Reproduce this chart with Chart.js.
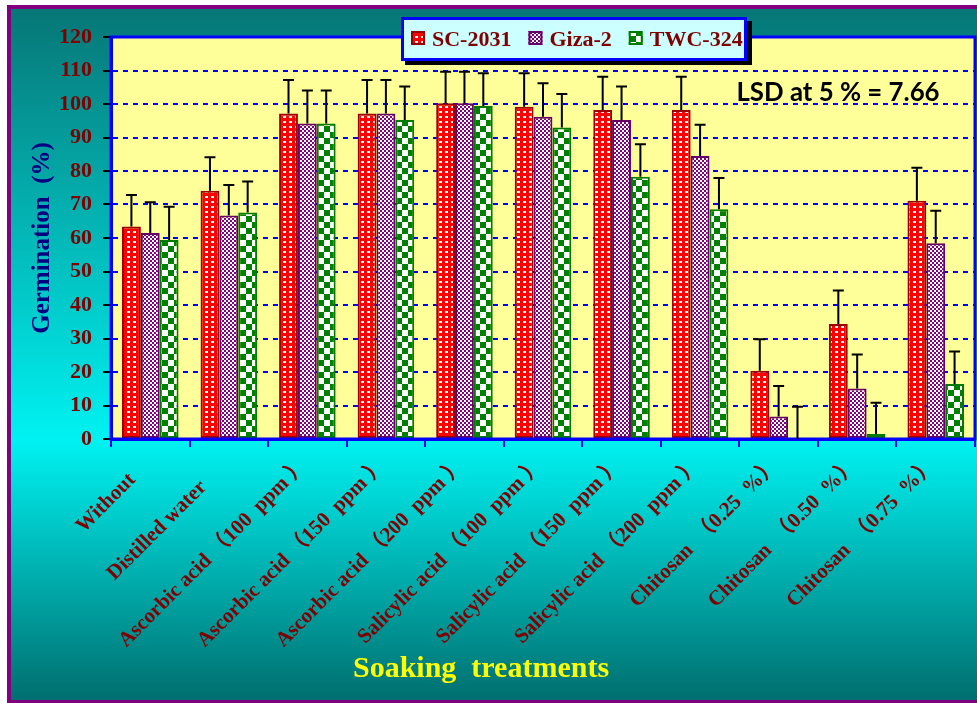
<!DOCTYPE html>
<html><head><meta charset="utf-8">
<script src="https://cdn.jsdelivr.net/npm/chart.js@4"></script>
<style>html,body{margin:0;padding:0;background:#fff;overflow:hidden}</style>
</head><body>
<canvas id="c" width="977" height="703"></canvas>
<script>
// ---- data ----
const categories = ['Without    ', 'Distilled water      ',
  'Ascorbic acid （100  ppm ）', 'Ascorbic acid （150  ppm ）', 'Ascorbic acid （200  ppm ）',
  'Salicylic acid （100  ppm ）', 'Salicylic acid （150  ppm ）', 'Salicylic acid （200  ppm ）',
  'Chitosan  （0.25  %）', 'Chitosan  （0.50  %）', 'Chitosan  （0.75  %）'];
const seriesNames = ['SC-2031', 'Giza-2', 'TWC-324'];
const sc2031 = [63.4, 74.1, 97.2, 97.2, 100.2, 99.2, 98.2, 98.2, 20.4, 34.3, 71.1];
const giza2  = [61.5, 66.7, 94.2, 97.2, 100.2, 96.2, 95.2, 84.5, 6.7, 15.1, 58.4];
const twc324 = [59.4, 67.6, 94.2, 95.2, 99.4, 93.0, 78.3, 68.6, 0, 1.5, 16.4];
const errSC   = [9.4, 10.0, 10.0, 10.0, 9.4, 10.0, 9.9, 9.9, 9.4, 10.0, 9.9];
const errGiza = [9.2, 9.1, 9.8, 10.0, 9.4, 10.0, 10.0, 9.3, 9.1, 10.1, 9.7];
const errTWC  = [9.9, 9.3, 9.8, 10.0, 9.8, 10.0, 9.7, 9.3, 9.6, 9.3, 9.7];
const yTickValues = [0, 10, 20, 30, 40, 50, 60, 70, 80, 90, 100, 110, 120];
const yTitle = 'Germination  (%)';
const xTitle = 'Soaking  treatments';
const lsdText = 'LSD at 5 % = 7.66';

const SERIF = "'Liberation Serif', 'Times New Roman', 'Noto Sans CJK SC', serif";
const canvas = document.getElementById('c');
const ctx0 = canvas.getContext('2d');

function makePattern(w, h, bg, fg, rects) {
  const c = document.createElement('canvas'); c.width = w; c.height = h;
  const x = c.getContext('2d');
  x.fillStyle = bg; x.fillRect(0, 0, w, h);
  x.fillStyle = fg; rects.forEach(r => x.fillRect(r[0], r[1], r[2], r[3]));
  return ctx0.createPattern(c, 'repeat');
}
const patSC = makePattern(6, 5, '#ff0000', '#ffffff', [[1, 1, 3, 2]]);
const patGiza = makePattern(4, 4, '#800080', '#ffffff', [[0, 0, 2, 2], [2, 2, 2, 2]]);
const patTWC = makePattern(12, 12, '#008000', '#ffffff', [[0, 0, 6, 6], [6, 6, 6, 6]]);
const fills = [patSC, patGiza, patTWC];
const borders = ['#990000', '#660066', '#007a00'];
const errs = [errSC, errGiza, errTWC];

const bgPlugin = {
  id: 'bg',
  beforeDraw(chart) {
    const c = chart.ctx, W = chart.width, H = chart.height, a = chart.chartArea;
    c.save();
    c.fillStyle = '#ffffff'; c.fillRect(0, 0, W, H);
    c.fillStyle = '#800080'; c.fillRect(7, 5, W, H);
    const g = c.createLinearGradient(0, 9, 0, 700);
    g.addColorStop(0, '#077676'); g.addColorStop(0.624, '#00f2f2'); g.addColorStop(1, '#006f6f');
    c.fillStyle = g; c.fillRect(11, 9, W, 691);
    c.fillStyle = '#ffff99'; c.fillRect(a.left, a.top, a.right - a.left, a.bottom - a.top);
    c.restore();
  }
};

const overlayPlugin = {
  id: 'overlay',
  afterDatasetsDraw(chart) {
    const c = chart.ctx, a = chart.chartArea, y = chart.scales.y;
    c.save();
    c.strokeStyle = '#0000ff'; c.lineWidth = 3;
    c.strokeRect(a.left, a.top, a.right - a.left, a.bottom - a.top);
    c.strokeStyle = '#000000'; c.lineWidth = 2;
    chart.data.datasets.forEach((ds, i) => {
      const meta = chart.getDatasetMeta(i);
      meta.data.forEach((bar, j) => {
        const v = ds.data[j];
        const top = y.getPixelForValue(v + errs[i][j]);
        const base = y.getPixelForValue(v);
        c.beginPath();
        c.moveTo(bar.x, base); c.lineTo(bar.x, top);
        c.moveTo(bar.x - 5.5, top); c.lineTo(bar.x + 5.5, top);
        c.stroke();
      });
    });
    c.restore();
  },
  afterDraw(chart) {
    const c = chart.ctx;
    c.save();
    c.fillStyle = '#000000'; c.fillRect(405, 21, 347, 44);
    c.fillStyle = '#ccffff'; c.fillRect(401, 17, 346, 44);
    c.strokeStyle = '#0000ff'; c.lineWidth = 3; c.strokeRect(402.5, 18.5, 343, 41);
    c.font = 'bold 22px ' + SERIF; c.textBaseline = 'alphabetic'; c.textAlign = 'left';
    let x = 411;
    chart.data.datasets.forEach((ds, i) => {
      c.fillStyle = fills[i]; c.fillRect(x, 31, 14, 14);
      c.strokeStyle = borders[i]; c.lineWidth = 2; c.strokeRect(x + 1, 32, 12, 12);
      x += 21;
      c.fillStyle = '#800000'; c.fillText(ds.label, x, 46);
      x += c.measureText(ds.label).width + 17;
    });
    let fs = 24;
    c.font = 'bold ' + fs + 'px Lato, "Open Sans", sans-serif';
    fs = fs * 203 / c.measureText(lsdText).width;
    c.font = 'bold ' + fs.toFixed(1) + 'px Lato, "Open Sans", sans-serif';
    c.fillStyle = '#000000'; c.textAlign = 'center';
    c.fillText(lsdText, 838, 101);
    c.font = 'bold 30px ' + SERIF; c.fillStyle = '#ffff00';
    c.fillText(xTitle, 481, 677);
    c.restore();
  }
};

new Chart(canvas, {
  type: 'bar',
  data: {
    labels: categories,
    datasets: [sc2031, giza2, twc324].map((d, i) => ({
      label: seriesNames[i], data: d, backgroundColor: fills[i],
      borderColor: borders[i], borderWidth: 2, borderSkipped: false
    }))
  },
  options: {
    responsive: false, animation: false, devicePixelRatio: 1,
    layout: { padding: { top: 37, right: 2, left: 0, bottom: 0 } },
    plugins: { legend: { display: false }, tooltip: { enabled: false } },
    datasets: { bar: { categoryPercentage: 0.72, barPercentage: 1.0 } },
    scales: {
      x: {
        grid: { drawOnChartArea: false, color: '#0000ff', tickColor: '#0000ff', tickLength: 8, tickWidth: 2, lineWidth: 2, offset: true },
        border: { color: '#0000ff', width: 3 },
        ticks: { color: '#800000', font: { family: SERIF, size: 21, weight: 'bold' },
                 minRotation: 45, maxRotation: 45, autoSkip: false, padding: 6, labelOffset: -3 },
        afterFit(s) { s.height = 264; }
      },
      y: {
        min: 0, max: 120,
        afterBuildTicks(s) { s.ticks = yTickValues.map(v => ({ value: v })); },
        ticks: { color: '#800000', font: { family: SERIF, size: 22, weight: 'bold' }, padding: 11 },
        grid: { color: '#0000ff', lineWidth: 2, tickColor: '#000000', tickLength: 8, tickWidth: 2 },
        border: { color: '#0000ff', width: 3, dash: [5, 5] },
        title: { display: true, text: yTitle, color: '#000080', font: { family: SERIF, size: 25, weight: 'bold' }, padding: { top: 28 } },
        afterFit(s) { s.width = 111; }
      }
    }
  },
  plugins: [bgPlugin, overlayPlugin]
});
</script>
</body></html>
